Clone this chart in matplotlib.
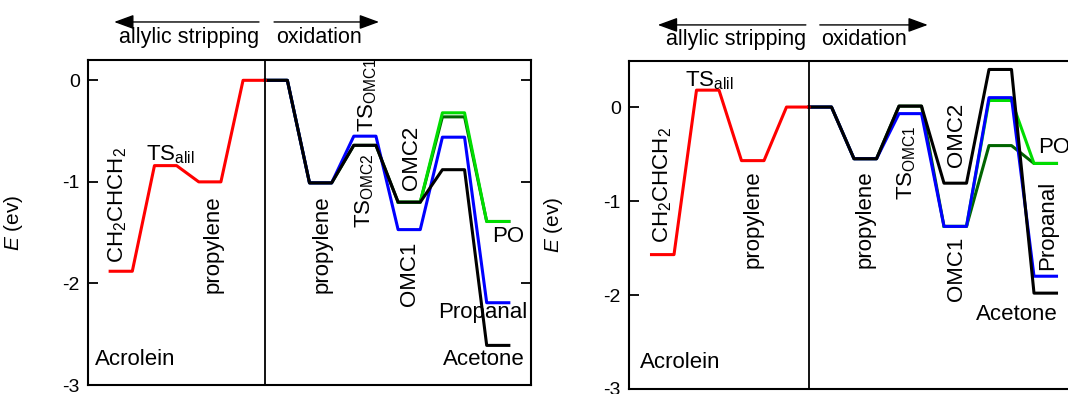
import matplotlib
matplotlib.use("Agg")
import matplotlib.pyplot as plt

plt.rcParams["font.family"] = ["Liberation Sans", "DejaVu Sans"]
plt.rcParams["mathtext.fontset"] = "custom"
plt.rcParams["mathtext.rm"] = "Liberation Sans"
plt.rcParams["mathtext.it"] = "Liberation Sans:italic"
plt.rcParams["mathtext.bf"] = "Liberation Sans:bold"

# start of each energy level on the x axis (every level is 0.5 wide)
strip_x = [0.5, 1.5, 2.5, 3.5]
ox_x = [4, 5, 6, 7, 8, 9]
tail_x = [7, 8, 9]

# left panel energies (eV)
a_strip = [-1.88, -0.84, -1.00, 0.00]
a_black = [0.00, -1.01, -0.64, -1.20, -0.88, -2.61]
a_blue = [0.00, -1.01, -0.55, -1.47, -0.56, -2.19]
a_dkgreen = [0.00, -1.01, -0.64, -1.20, -0.36, -1.39]
a_green = [-1.20, -0.32, -1.39]

# right panel energies (eV)
b_strip = [-1.57, 0.18, -0.57, 0.00]
b_black = [0.00, -0.55, 0.01, -0.81, 0.40, -1.98]
b_blue = [0.00, -0.55, -0.07, -1.27, 0.10, -1.80]
b_dkgreen = [0.00, -0.55, 0.01, -1.27, -0.41, -0.60]
b_green = [-1.27, 0.07, -0.60]

yticks = [0, -1, -2, -3]


def steps(xs, es, w=0.5):
    px, py = [], []
    for x, e in zip(xs, es):
        px += [x, x + w]
        py += [e, e]
    return px, py


def draw_panel(ax, strip, black, blue, dkgreen, green, ytop):
    lw = 2.2
    ax.plot(*steps(ox_x, dkgreen), color="#006400", lw=lw)
    ax.plot(*steps(tail_x, green), color="#00dd00", lw=lw)
    ax.plot(*steps(ox_x, blue), color="#0000ff", lw=lw)
    ax.plot(*steps(ox_x, black), color="black", lw=lw)
    ax.plot(*steps(strip_x, strip), color="#ff0000", lw=lw)
    ax.axvline(4, color="black", lw=1.3)
    ax.set_xlim(0, 10)
    ax.set_ylim(-3, ytop)
    ax.set_xticks([])
    ax.set_yticks(yticks)
    ax.set_yticklabels([str(t) if t == 0 else "-%d" % -t for t in yticks])
    ax.tick_params(axis="y", direction="in", length=7, width=1.3,
                   right=True, labelsize=14, pad=6)
    for s in ax.spines.values():
        s.set_linewidth(1.5)
    ax.set_ylabel("$E$ (ev)", fontsize=15)
    ax.yaxis.set_label_coords(-0.143, 0.5)


def headers(ax, l0, l1, r0, r1, ya, yt):
    tr = ax.get_xaxis_transform()
    ap = dict(arrowstyle="-|>,head_length=0.6,head_width=0.22", color="black",
              lw=1.0, mutation_scale=20, shrinkA=0, shrinkB=0)
    ax.annotate("", xy=(l1, ya), xytext=(l0, ya), xycoords=tr,
                textcoords=tr, arrowprops=ap, annotation_clip=False)
    ax.annotate("", xy=(r1, ya), xytext=(r0, ya), xycoords=tr,
                textcoords=tr, arrowprops=ap, annotation_clip=False)
    ax.text(l0, yt, "allylic stripping", transform=tr, ha="right",
            va="baseline", fontsize=15.5)
    ax.text(r0 + 0.04, yt, "oxidation", transform=tr, ha="left",
            va="baseline", fontsize=15.5)


fig = plt.figure(figsize=(10.68, 3.94), dpi=100)
ax1 = fig.add_axes([88 / 1068, 9 / 394, 443 / 1068, 325 / 394])
ax2 = fig.add_axes([629 / 1068, 5 / 394, 450 / 1068, 328 / 394])

draw_panel(ax1, a_strip, a_black, a_blue, a_dkgreen, a_green, 0.2)
draw_panel(ax2, b_strip, b_black, b_blue, b_dkgreen, b_green, 0.49)

fs = 16
# left panel labels
ax1.text(0.68, -1.80, "CH$_2$CHCH$_2$", rotation=90, ha="center", va="bottom", fontsize=fs)
ax1.text(1.31, -0.79, "TS$_{\\mathrm{alil}}$", ha="left", va="baseline", fontsize=fs)
ax1.text(2.82, -1.13, "propylene", rotation=90, ha="center", va="top", fontsize=fs)
ax1.text(0.16, -2.75, "Acrolein", ha="left", va="center", fontsize=fs)
ax1.text(5.28, -1.13, "propylene", rotation=90, ha="center", va="top", fontsize=fs)
ax1.text(6.31, -0.51, "TS$_{\\mathrm{OMC1}}$", rotation=90, ha="center", va="bottom", fontsize=fs)
ax1.text(6.25, -0.72, "TS$_{\\mathrm{OMC2}}$", rotation=90, ha="center", va="top", fontsize=fs)
ax1.text(7.31, -1.08, "OMC2", rotation=90, ha="center", va="bottom", fontsize=fs)
ax1.text(7.25, -1.59, "OMC1", rotation=90, ha="center", va="top", fontsize=fs)
ax1.text(9.12, -1.54, "PO", ha="left", va="center", fontsize=fs)
ax1.text(7.90, -2.29, "Propanal", ha="left", va="center", fontsize=fs)
ax1.text(8.01, -2.75, "Acetone", ha="left", va="center", fontsize=fs)

# right panel labels
ax2.text(0.74, -1.45, "CH$_2$CHCH$_2$", rotation=90, ha="center", va="bottom", fontsize=fs)
ax2.text(1.24, 0.22, "TS$_{\\mathrm{alil}}$", ha="left", va="baseline", fontsize=fs)
ax2.text(2.75, -0.67, "propylene", rotation=90, ha="center", va="top", fontsize=fs)
ax2.text(0.24, -2.72, "Acrolein", ha="left", va="center", fontsize=fs)
ax2.text(5.24, -0.67, "propylene", rotation=90, ha="center", va="top", fontsize=fs)
ax2.text(6.17, -0.19, "TS$_{\\mathrm{OMC1}}$", rotation=90, ha="center", va="top", fontsize=fs)
ax2.text(7.27, -0.64, "OMC2", rotation=90, ha="center", va="bottom", fontsize=fs)
ax2.text(7.27, -1.38, "OMC1", rotation=90, ha="center", va="top", fontsize=fs)
ax2.text(9.09, -0.43, "PO", ha="left", va="center", fontsize=fs)
ax2.text(9.31, -1.73, "Propanal", rotation=90, ha="center", va="bottom", fontsize=fs)
ax2.text(7.71, -2.21, "Acetone", ha="left", va="center", fontsize=fs)

headers(ax1, 3.86, 0.59, 4.20, 6.57, 1.117, 1.052)
headers(ax2, 3.93, 0.64, 4.24, 6.64, 1.11, 1.049)

fig.savefig("out.png", dpi=100)
